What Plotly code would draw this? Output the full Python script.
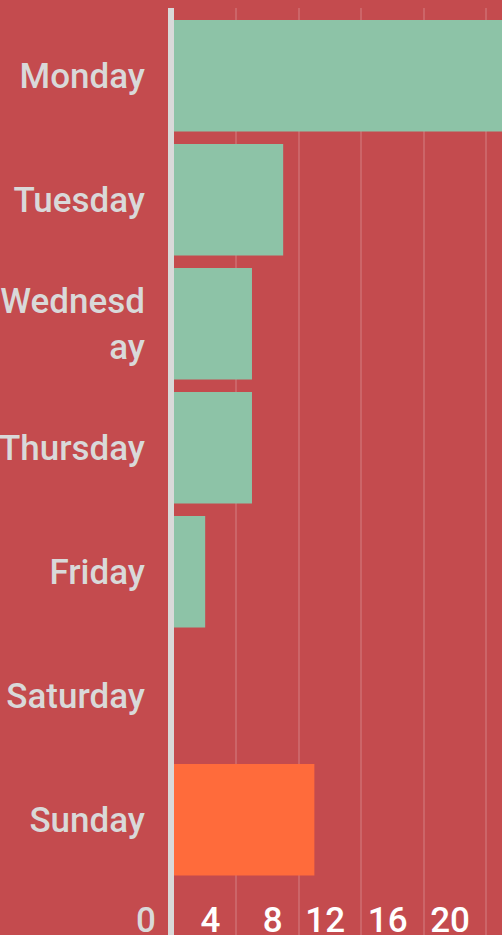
import plotly.graph_objects as go

days = ["Monday", "Tuesday", "Wednesday", "Thursday", "Friday", "Saturday", "Sunday"]
day_labels = ["Monday", "Tuesday", "Wednesd<br>ay", "Thursday", "Friday", "Saturday", "Sunday"]
counts = [24, 7, 5, 5, 2, 0, 9]
colors = ["#8DC3A7"] * 6 + ["#FF6B3B"]

x_ticks = [0, 4, 8, 12, 16, 20]

bg = "#C44B4E"
text_col = "#D9D9D9"

fig = go.Figure()
fig.add_trace(
    go.Bar(
        y=days,
        x=counts,
        orientation="h",
        marker=dict(color=colors, line=dict(width=0)),
        showlegend=False,
    )
)

fig.update_layout(
    width=502,
    height=935,
    margin=dict(l=174, r=0, t=8, b=0),
    paper_bgcolor=bg,
    plot_bgcolor=bg,
    bargap=0.1,
    font=dict(family="Roboto", size=35, color=text_col, weight=500),
)

fig.update_xaxes(
    range=[0, 21.03],
    tickvals=x_ticks,
    ticktext=[str(v) for v in x_ticks],
    ticklabelposition="inside left",
    ticklabelshift=-16,
    ticklabelstandoff=-10,
    showgrid=True,
    gridcolor="rgba(255,255,255,0.15)",
    gridwidth=2,
    zeroline=False,
    showline=False,
    ticks="",
    automargin=False,
    fixedrange=True,
)

fig.update_yaxes(
    categoryorder="array",
    categoryarray=days,
    tickvals=days,
    ticktext=day_labels,
    range=[6.929, -0.547],
    showgrid=False,
    zeroline=False,
    showline=True,
    linecolor=text_col,
    linewidth=6,
    layer="above traces",
    ticks="",
    ticklabelstandoff=16,
    automargin=False,
    fixedrange=True,
)

# the "0" tick sits left of the plot area, where inside labels get hidden
fig.add_annotation(
    x=x_ticks[0], xref="x", y=0, yref="paper",
    text=str(x_ticks[0]), showarrow=False,
    xanchor="right", yanchor="bottom", xshift=-16, yshift=-8,
    font=dict(family="Roboto", size=35, color=text_col, weight=500),
)

# drop the page margin and match the page colour to the chart
fig.write_html(
    "out.html",
    config={"displayModeBar": False},
    post_script="document.body.style.margin='0';document.body.style.background='%s';" % bg,
)
